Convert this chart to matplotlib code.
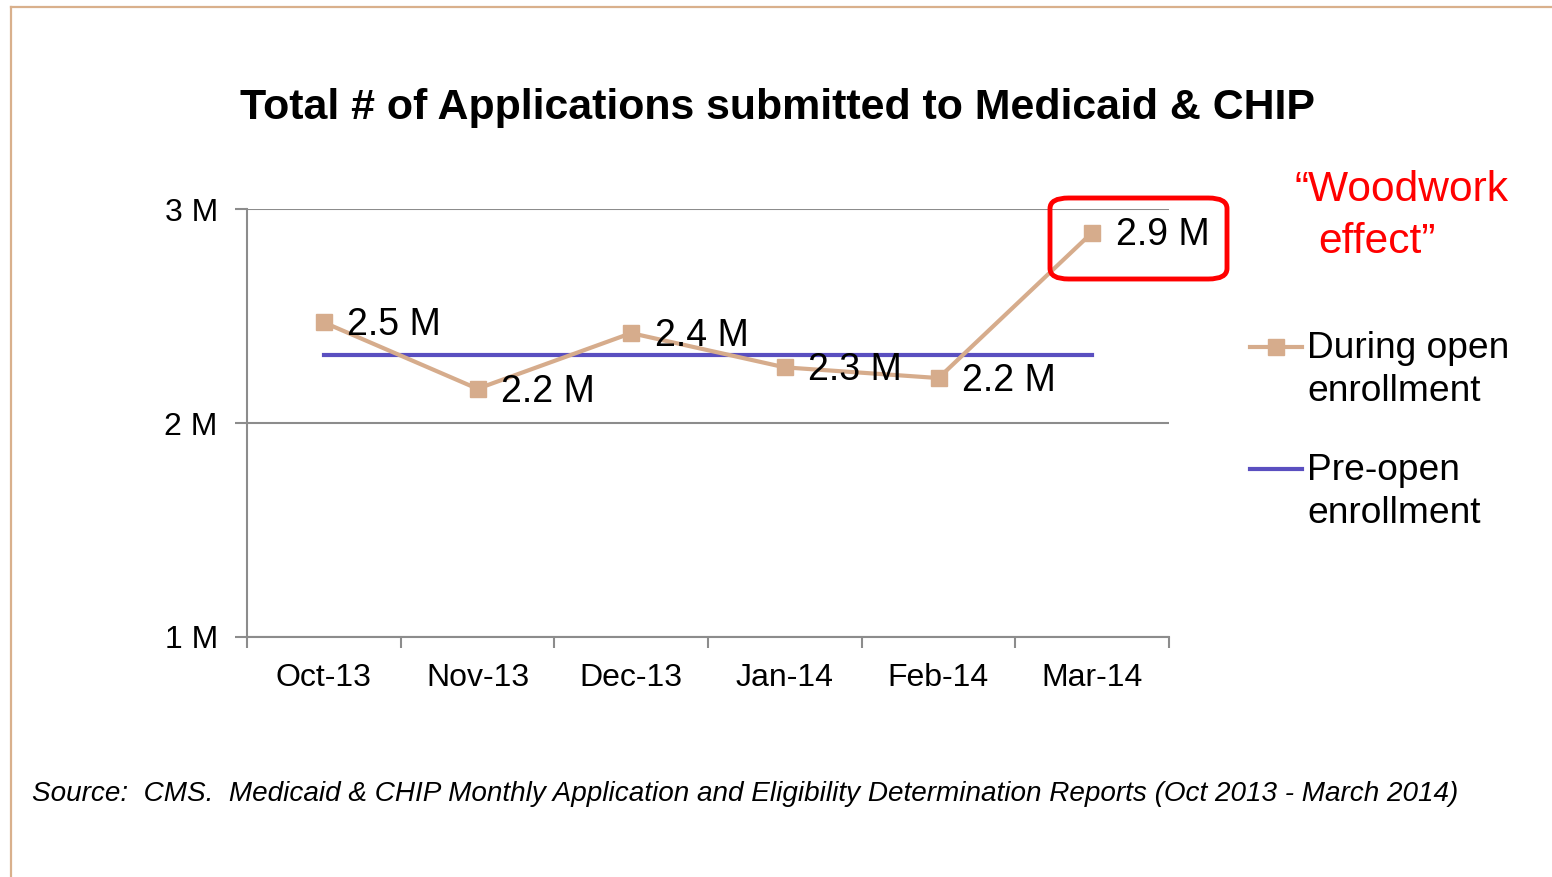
import numpy as np
import matplotlib.pyplot as plt
from matplotlib.patches import FancyBboxPatch
from matplotlib.lines import Line2D

plt.rcParams['font.family'] = ['Liberation Sans', 'DejaVu Sans']

# chart data (millions of applications)
months = ["Oct-13", "Nov-13", "Dec-13", "Jan-14", "Feb-14", "Mar-14"]
during_open = [2.47, 2.16, 2.42, 2.26, 2.21, 2.89]
point_labels = ["2.5 M", "2.2 M", "2.4 M", "2.3 M", "2.2 M", "2.9 M"]
pre_open = 2.32
y_ticks = [1, 2, 3]
y_tick_labels = ["1 M", "2 M", "3 M"]

tan = '#D6AC8C'
blue = '#5A4FC0'
grey = '#8C8C8C'

W, H = 1552, 877
fig = plt.figure(figsize=(W / 100, H / 100), dpi=100)

def fx(px):
    return px / W

def fy(py):
    return 1 - py / H

# thin tan frame around the slide (open on right and bottom)
fig.add_artist(Line2D([fx(11), fx(11)], [0, fy(7)], transform=fig.transFigure,
                      color='#D9B08C', lw=1.6))
fig.add_artist(Line2D([fx(11), 1], [fy(7), fy(7)], transform=fig.transFigure,
                      color='#D9B08C', lw=1.6))

ax = fig.add_axes([fx(247), fy(637), 922 / W, 428 / H])
x = np.arange(len(months))

ax.plot(x, during_open, color=tan, lw=3, marker='s', markersize=11, zorder=3)
ax.plot([x[0], x[-1]], [pre_open, pre_open], color=blue, lw=3, zorder=2)

for xi, yi, lab in zip(x, during_open, point_labels):
    ax.annotate(lab, (xi, yi), xytext=(17, -2), textcoords='offset points',
                va='center', ha='left', fontsize=27, zorder=4)

ax.set_xlim(-0.5, len(months) - 0.5)
ax.set_ylim(1, 3)
ax.set_xticks(x)
ax.set_xticklabels(months, fontsize=23)
ax.set_xticks(np.arange(-0.5, len(months), 1), minor=True)
ax.set_yticks(y_ticks)
ax.set_yticklabels(y_tick_labels, fontsize=23)
ax.tick_params(axis='x', which='major', length=0, pad=19)
ax.tick_params(axis='x', which='minor', length=8, color=grey, width=1.5)
ax.tick_params(axis='y', length=9, color=grey, width=1.5, pad=12)
ax.yaxis.grid(True, color=grey, lw=1.5)
ax.set_axisbelow(True)
for s in ['top', 'right']:
    ax.spines[s].set_visible(False)
for s in ['left', 'bottom']:
    ax.spines[s].set_color(grey)
    ax.spines[s].set_linewidth(1.5)

fig.text(fx(240), fy(108), "Total # of Applications submitted to Medicaid & CHIP",
         fontsize=30.9, fontweight='bold', va='center', ha='left')

# highlight box around the March value
fig.add_artist(FancyBboxPatch((fx(1050), fy(279)), 177 / W, 81 / H,
                              boxstyle='round,pad=0,rounding_size=0.012',
                              transform=fig.transFigure, fill=False,
                              edgecolor='#FF0000', lw=3.5))
fig.text(fx(1294), fy(190), "\u201cWoodwork", color='#FF0000',
         fontsize=30.6, ha='left', va='center')
fig.text(fx(1318), fy(242), "effect\u201d", color='#FF0000',
         fontsize=30.6, ha='left', va='center')

# legend
fig.add_artist(Line2D([fx(1250), fx(1302)], [fy(347)] * 2, transform=fig.transFigure,
                      color=tan, lw=3))
fig.add_artist(Line2D([fx(1276)], [fy(347)], transform=fig.transFigure,
                      color=tan, lw=0, marker='s', markersize=11))
fig.add_artist(Line2D([fx(1250), fx(1302)], [fy(469)] * 2, transform=fig.transFigure,
                      color=blue, lw=3))
fig.text(fx(1307), fy(370), "During open\nenrollment", fontsize=26.7,
         va='center', ha='left', linespacing=1.3)
fig.text(fx(1307), fy(492), "Pre-open\nenrollment", fontsize=26.7,
         va='center', ha='left', linespacing=1.3)

fig.text(fx(32), fy(794),
         "Source:  CMS.  Medicaid & CHIP Monthly Application and Eligibility Determination Reports (Oct 2013 - March 2014)",
         fontsize=20.1, style='italic', va='center', ha='left')

fig.savefig('out.png', dpi=100)
